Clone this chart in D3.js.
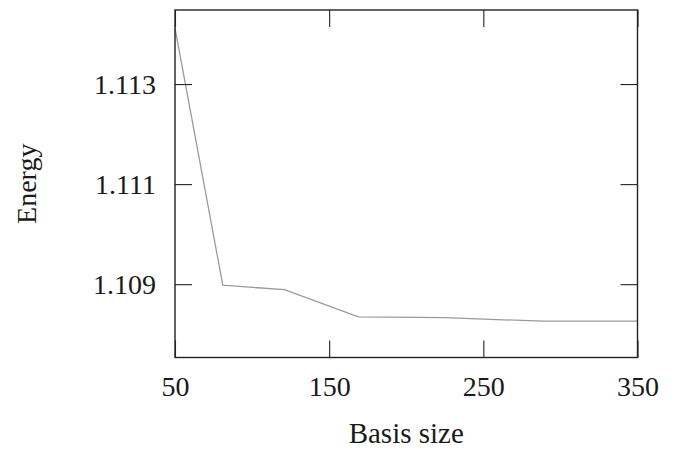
<!DOCTYPE html>
<html>
<head>
<meta charset="utf-8">
<script src="https://cdn.jsdelivr.net/npm/d3@7"></script>
<style>
  html, body { margin: 0; padding: 0; background: #fff; }
  svg text { font-family: "Liberation Serif", "Times New Roman", serif; fill: #1a1a1a; }
</style>
</head>
<body>
<svg id="chart" width="688" height="449"></svg>
<script>
// Convergence of the energy with the basis size
const basisSize = [50, 81, 121, 169, 225, 289, 350];
const energy = [1.11412, 1.10898, 1.10889, 1.108346, 1.10833, 1.10826, 1.10826];
const xTicks = [50, 150, 250, 350];
const yTicks = [1.109, 1.111, 1.113];

const svg = d3.select("#chart");
const margin = { left: 175, right: 50.5, top: 10, bottom: 91.5 };
const W = 688, H = 449;
const innerW = W - margin.left - margin.right;
const innerH = H - margin.top - margin.bottom;

const x = d3.scaleLinear().domain([50, 350]).range([0, innerW]);
const y = d3.scaleLinear().domain([1.107535, 1.11448]).range([innerH, 0]);

const g = svg.append("g").attr("transform", `translate(${margin.left},${margin.top})`);

// Data line
const line = d3.line().x((d, i) => x(basisSize[i])).y(d => y(d));
g.append("path")
  .datum(energy)
  .attr("d", line)
  .attr("fill", "none")
  .attr("stroke", "#9a9a9a")
  .attr("stroke-width", 1.3);

const tickLen = 17;
const fontSize = 28;

// Axes with inward ticks on all four sides
const axBottom = g.append("g").attr("transform", `translate(0,${innerH})`)
  .call(d3.axisBottom(x).tickValues(xTicks).tickSizeInner(-tickLen).tickSizeOuter(0).tickPadding(19).tickFormat(d3.format("d")));
const axTop = g.append("g")
  .call(d3.axisTop(x).tickValues(xTicks).tickSizeInner(-tickLen).tickSizeOuter(0).tickFormat(""));
const axLeft = g.append("g")
  .call(d3.axisLeft(y).tickValues(yTicks).tickSizeInner(-tickLen).tickSizeOuter(0).tickPadding(19).tickFormat(d3.format(".3f")));
const axRight = g.append("g").attr("transform", `translate(${innerW},0)`)
  .call(d3.axisRight(y).tickValues(yTicks).tickSizeInner(-tickLen).tickSizeOuter(0).tickFormat(""));

[axBottom, axTop, axLeft, axRight].forEach(a => {
  a.select(".domain").remove();
  a.selectAll(".tick line").attr("stroke", "#222").attr("stroke-width", 1.1);
  a.selectAll(".tick text")
    .style("font-family", '"Liberation Serif", "Times New Roman", serif')
    .style("font-size", fontSize + "px")
    .attr("fill", "#1a1a1a");
});

// Frame
g.append("rect")
  .attr("x", 0).attr("y", 0)
  .attr("width", innerW).attr("height", innerH)
  .attr("fill", "none")
  .attr("stroke", "#222")
  .attr("stroke-width", 1.4);

// Axis titles
svg.append("text")
  .attr("x", margin.left + innerW / 2)
  .attr("y", 443)
  .attr("text-anchor", "middle")
  .style("font-size", "29px")
  .text("Basis size");

svg.append("text")
  .attr("transform", `translate(36,${margin.top + innerH / 2}) rotate(-90)`)
  .attr("text-anchor", "middle")
  .style("font-size", fontSize + "px")
  .text("Energy");
</script>
</body>
</html>
